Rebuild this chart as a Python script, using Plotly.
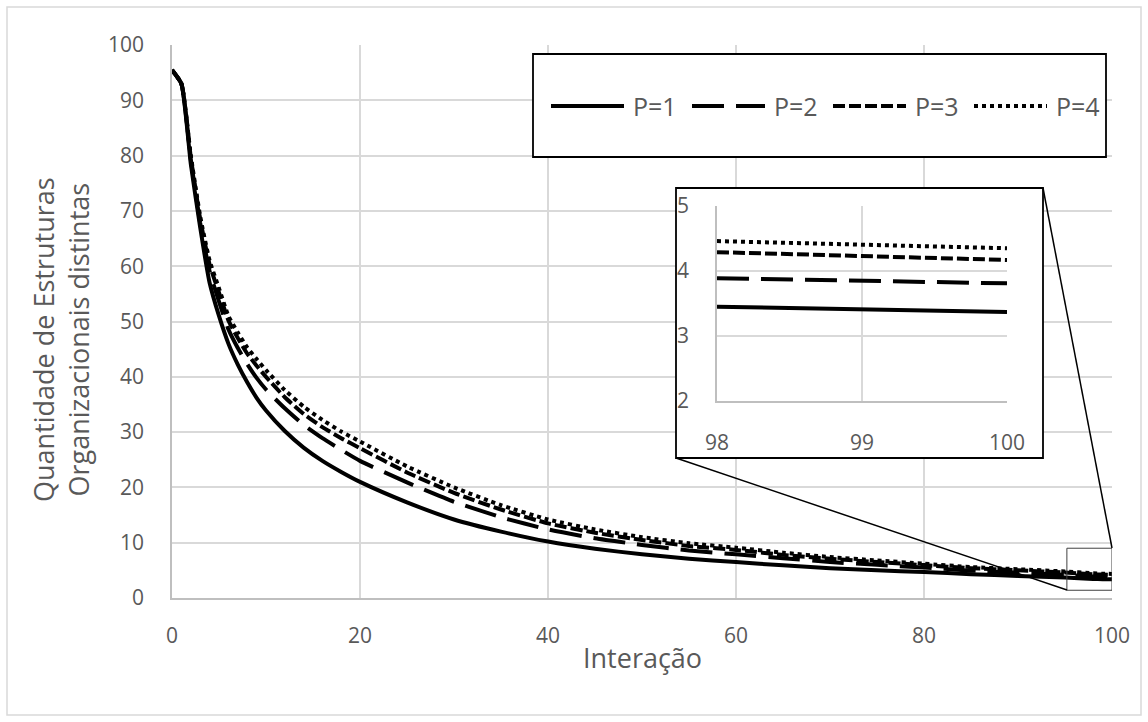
import plotly.graph_objects as go

# ---- data ----
iteracao = [0, 1, 2, 3, 4, 5, 6, 7, 8, 9, 10, 12, 14, 16, 18, 20, 25, 30, 35, 40,
            45, 50, 55, 60, 65, 70, 75, 80, 85, 90, 95, 98, 99, 100]
p1 = [95.5, 93.0, 78.5, 67.0, 57.0, 51.0, 46.0, 42.2, 39.0, 36.2, 33.9, 30.2, 27.2, 24.8, 22.8, 21.0,
      17.3, 14.2, 12.0, 10.2, 8.9, 7.9, 7.1, 6.5, 5.9, 5.4, 5.0, 4.7, 4.3, 4.0, 3.7, 3.45, 3.41, 3.37]
p2 = [95.5, 93.0, 79.3, 67.8, 59.1, 53.6, 48.6, 45.2, 42.3, 39.8, 37.7, 34.3, 31.3, 28.9, 26.8, 24.8,
      20.9, 17.4, 14.6, 12.4, 10.8, 9.6, 8.6, 7.9, 7.2, 6.5, 6.0, 5.5, 4.95, 4.55, 4.2, 3.89, 3.85, 3.81]
p3 = [95.5, 93.0, 79.7, 68.5, 60.3, 55.2, 50.2, 47.0, 44.2, 42.0, 40.0, 36.3, 33.3, 30.9, 28.9, 27.1,
      22.7, 19.0, 16.0, 13.5, 11.8, 10.5, 9.4, 8.7, 7.8, 7.1, 6.5, 5.95, 5.4, 5.0, 4.6, 4.29, 4.23, 4.17]
p4 = [95.5, 93.0, 80.0, 69.0, 61.0, 56.0, 51.0, 48.0, 45.3, 43.2, 41.2, 37.6, 34.6, 32.2, 30.1, 28.3,
      23.8, 20.0, 16.8, 14.2, 12.4, 11.0, 9.9, 9.1, 8.2, 7.4, 6.8, 6.2, 5.6, 5.2, 4.8, 4.46, 4.40, 4.35]
series_names = ["P=1", "P=2", "P=3", "P=4"]
x_ticks = [0, 20, 40, 60, 80, 100]
y_ticks = [0, 10, 20, 30, 40, 50, 60, 70, 80, 90, 100]
inset_x_ticks = [98, 99, 100]
inset_y_ticks = [2, 3, 4, 5]

# ---- styles ----
FONT = "Open Sans"
GREY_TXT = "#595959"
GRID = "#d9d9d9"
AXLINE = "#bfbfbf"
LW = 4
dashes = ["solid", "32px,12px", "12px,4px", "4px,4px"]

W, H = 1148, 722
L, R, T, B = 172, 36, 45, 124
PW, PH = W - L - R, H - T - B


def px_x(px):
    return (px - L) / PW


def px_y(py):
    return (H - B - py) / PH


fig = go.Figure()
all_series = [p1, p2, p3, p4]

# main curves
for name, ys, d in zip(series_names, all_series, dashes):
    fig.add_trace(go.Scatter(x=iteracao, y=ys, mode="lines", name=name,
                             line=dict(color="black", width=LW, dash=d, shape="spline", smoothing=0.5),
                             showlegend=False, hoverinfo="skip"))

# cover for inset area (white box) on its own subplot, drawn above main grid
fig.add_trace(go.Scatter(x=[0, 1, 1, 0, 0], y=[0, 0, 1, 1, 0], mode="lines", fill="toself",
                         fillcolor="white", line=dict(color="white", width=0),
                         xaxis="x2", yaxis="y2", showlegend=False, hoverinfo="skip"))

# inset curves
sel = [i for i, v in enumerate(iteracao) if v >= 98]
for name, ys, d in zip(series_names, all_series, dashes):
    fig.add_trace(go.Scatter(x=[iteracao[i] for i in sel], y=[ys[i] for i in sel], mode="lines",
                             line=dict(color="black", width=LW, dash=d),
                             xaxis="x3", yaxis="y3", showlegend=False, hoverinfo="skip"))

tickfont = dict(family=FONT, size=21, color=GREY_TXT)

fig.update_layout(
    width=W, height=H,
    margin=dict(l=L, r=R, t=T, b=B),
    paper_bgcolor="white", plot_bgcolor="white",
    showlegend=False,
    xaxis=dict(domain=[0, 1], range=[0, 100], tickvals=x_ticks, showgrid=True, gridcolor=GRID, gridwidth=1.5,
               showline=True, linecolor=AXLINE, linewidth=1.5, zeroline=False, ticks="",
               tickfont=tickfont, ticklabelstandoff=18, fixedrange=True),
    yaxis=dict(domain=[0, 1], range=[0, 100], tickvals=y_ticks, showgrid=True, gridcolor=GRID, gridwidth=1.5,
               showline=True, linecolor=AXLINE, linewidth=1.5, zeroline=False, ticks="",
               tickfont=tickfont, ticklabelstandoff=22, fixedrange=True),
    xaxis2=dict(domain=[px_x(676), px_x(1043)], range=[0, 1], visible=False, anchor="y2", fixedrange=True),
    yaxis2=dict(domain=[px_y(458), px_y(188)], range=[0, 1], visible=False, anchor="x2", fixedrange=True),
    xaxis3=dict(domain=[px_x(717), px_x(1007)], range=[98, 100], tickvals=inset_x_ticks, anchor="y3",
                showgrid=True, gridcolor=GRID, gridwidth=1.5, showline=True, linecolor=AXLINE, linewidth=1.5,
                zeroline=False, ticks="", tickfont=tickfont, ticklabelstandoff=22, fixedrange=True),
    yaxis3=dict(domain=[px_y(401), px_y(206)], range=[2, 5], tickvals=inset_y_ticks, anchor="x3",
                showgrid=True, gridcolor=GRID, gridwidth=1.5, showline=True, linecolor=AXLINE, linewidth=1.5,
                zeroline=False, ticks="", tickfont=tickfont, ticklabelstandoff=22, fixedrange=True),
)

shapes = []
# outer chart frame
shapes.append(dict(type="rect", xref="paper", yref="paper", x0=px_x(7), x1=px_x(1141), y0=px_y(715), y1=px_y(7),
                   line=dict(color=GRID, width=1.5), fillcolor="rgba(0,0,0,0)", layer="below"))
# inset frame
shapes.append(dict(type="rect", xref="paper", yref="paper", x0=px_x(676), x1=px_x(1043), y0=px_y(458), y1=px_y(188),
                   line=dict(color="black", width=1.8), fillcolor="rgba(0,0,0,0)", layer="above"))
# zoom rectangle on main chart (data coords)
shapes.append(dict(type="rect", xref="x", yref="y", x0=95.2, x1=100, y0=1.4, y1=9.0,
                   line=dict(color="#404040", width=1), fillcolor="rgba(0,0,0,0)", layer="above"))
# connectors
shapes.append(dict(type="line", xref="paper", yref="paper", x0=px_x(1112), y0=px_y(548), x1=px_x(1043), y1=px_y(188),
                   line=dict(color="black", width=1.5), layer="above"))
shapes.append(dict(type="line", xref="paper", yref="paper", x0=px_x(1067), y0=px_y(590), x1=px_x(676), y1=px_y(458),
                   line=dict(color="black", width=1.5), layer="above"))
# legend box
shapes.append(dict(type="rect", xref="paper", yref="paper", x0=px_x(533), x1=px_x(1106), y0=px_y(157), y1=px_y(54),
                   line=dict(color="black", width=1.8), fillcolor="white", layer="above"))
annotations = []
ly = px_y(106)
for i, (name, d) in enumerate(zip(series_names, dashes)):
    x0 = 551 + 141 * i
    shapes.append(dict(type="line", xref="paper", yref="paper", x0=px_x(x0), x1=px_x(x0 + 73), y0=ly, y1=ly,
                       line=dict(color="black", width=LW, dash=d), layer="above"))
    annotations.append(dict(xref="paper", yref="paper", x=px_x(x0 + 80), y=ly, text=name, showarrow=False,
                            xanchor="left", yanchor="middle",
                            font=dict(family=FONT, size=25, color=GREY_TXT)))

annotations.append(dict(xref="paper", yref="paper", x=0.5, y=px_y(657), text="Interação", showarrow=False,
                        xanchor="center", yanchor="middle", font=dict(family=FONT, size=27, color=GREY_TXT)))
annotations.append(dict(xref="paper", yref="paper", x=px_x(61), y=px_y(340),
                        text="Quantidade de Estruturas<br>Organizacionais distintas", showarrow=False,
                        textangle=-90, xanchor="center", yanchor="middle",
                        font=dict(family=FONT, size=27, color=GREY_TXT)))

fig.update_layout(shapes=shapes, annotations=annotations)
fig.write_html("out.html")
